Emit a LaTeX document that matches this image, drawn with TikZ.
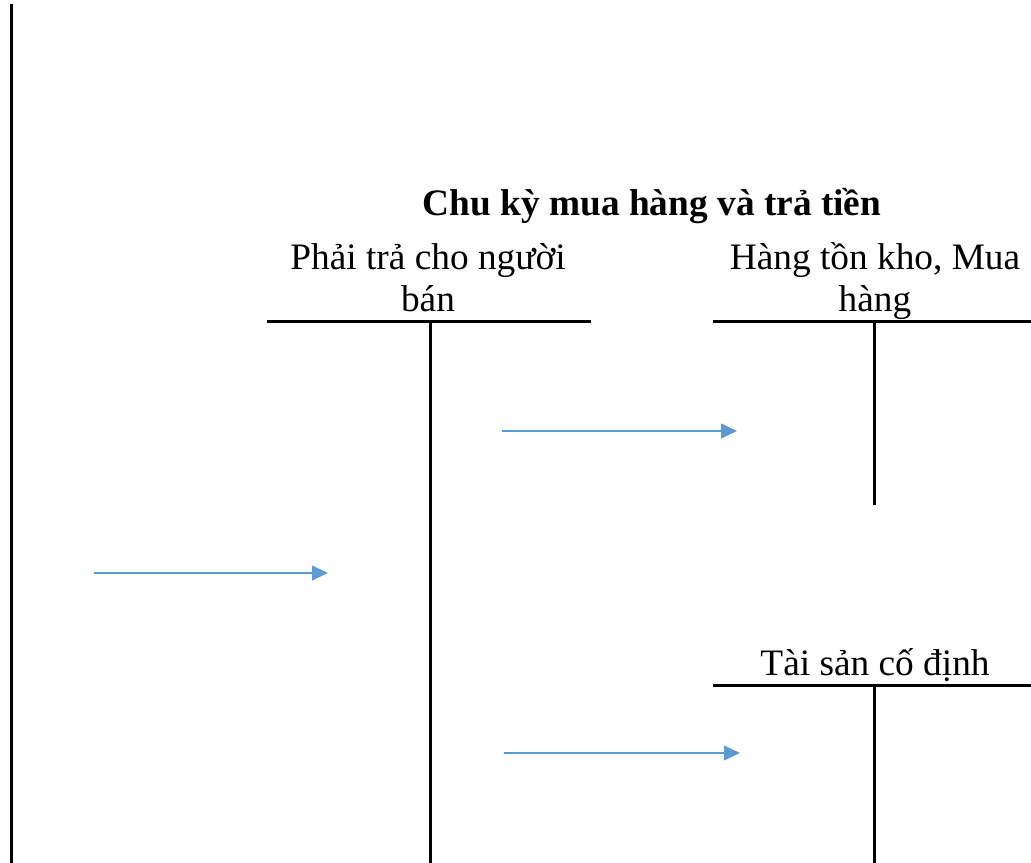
\documentclass[tikz,border=0pt]{standalone}
\usepackage{fontspec}
\setmainfont{Liberation Serif}
\usetikzlibrary{arrows.meta}
\definecolor{tkblue}{RGB}{91,155,213}
\tikzset{
  tline/.style={line width=2.25pt, black},
  flow/.style={tkblue, line width=1.5pt, -{Triangle[length=12pt,width=11pt]}},
  tlabel/.style={font=\fontsize{28}{31.5}\selectfont, align=center, inner sep=0pt},
}

\begin{document}
\begin{tikzpicture}[x=0.75pt, y=-0.75pt]
    \useasboundingbox (0,0) rectangle (1031,863);
    \draw[tline] (11.5,4) -- (11.5,863);
    \node[tlabel, font=\bfseries\fontsize{28}{31.5}\selectfont, anchor=base]
      (title) at (652,215) {Chu kỳ mua hàng và trả tiền};
    % payables account
    \node[tlabel, anchor=base] (ap) at (428,311) {Phải trả cho người\\bán};
    \coordinate (apL) at (267,321);
    \coordinate (apR) at (591,321);
    \coordinate (apT) at (430,321);
    \coordinate (apB) at (430,863);
    \draw[tline] (apL) -- (apR);
    \draw[tline] (apT) -- (apB);
    % inventory account
    \node[tlabel, anchor=base] (inv) at (875,311) {Hàng tồn kho, Mua\\hàng};
    \coordinate (invL) at (713,321);
    \coordinate (invR) at (1031,321);
    \coordinate (invT) at (874,321);
    \coordinate (invB) at (874,505);
    \draw[tline] (invL) -- (invR);
    \draw[tline] (invT) -- (invB);
    % fixed assets account
    \node[tlabel, anchor=base] (fa) at (875,675) {Tài sản cố định};
    \coordinate (faL) at (713,685);
    \coordinate (faR) at (1031,685);
    \coordinate (faT) at (874,685);
    \coordinate (faB) at (874,863);
    \draw[tline] (faL) -- (faR);
    \draw[tline] (faT) -- (faB);
    % flows
    \coordinate (f1a) at (502,431);
    \coordinate (f1b) at (737,431);
    \coordinate (f2a) at (94,573);
    \coordinate (f2b) at (328,573);
    \coordinate (f3a) at (504,753);
    \coordinate (f3b) at (740,753);
    \draw[flow] (f1a) -- (f1b);
    \draw[flow] (f2a) -- (f2b);
    \draw[flow] (f3a) -- (f3b);
  \end{tikzpicture}
\end{document}
